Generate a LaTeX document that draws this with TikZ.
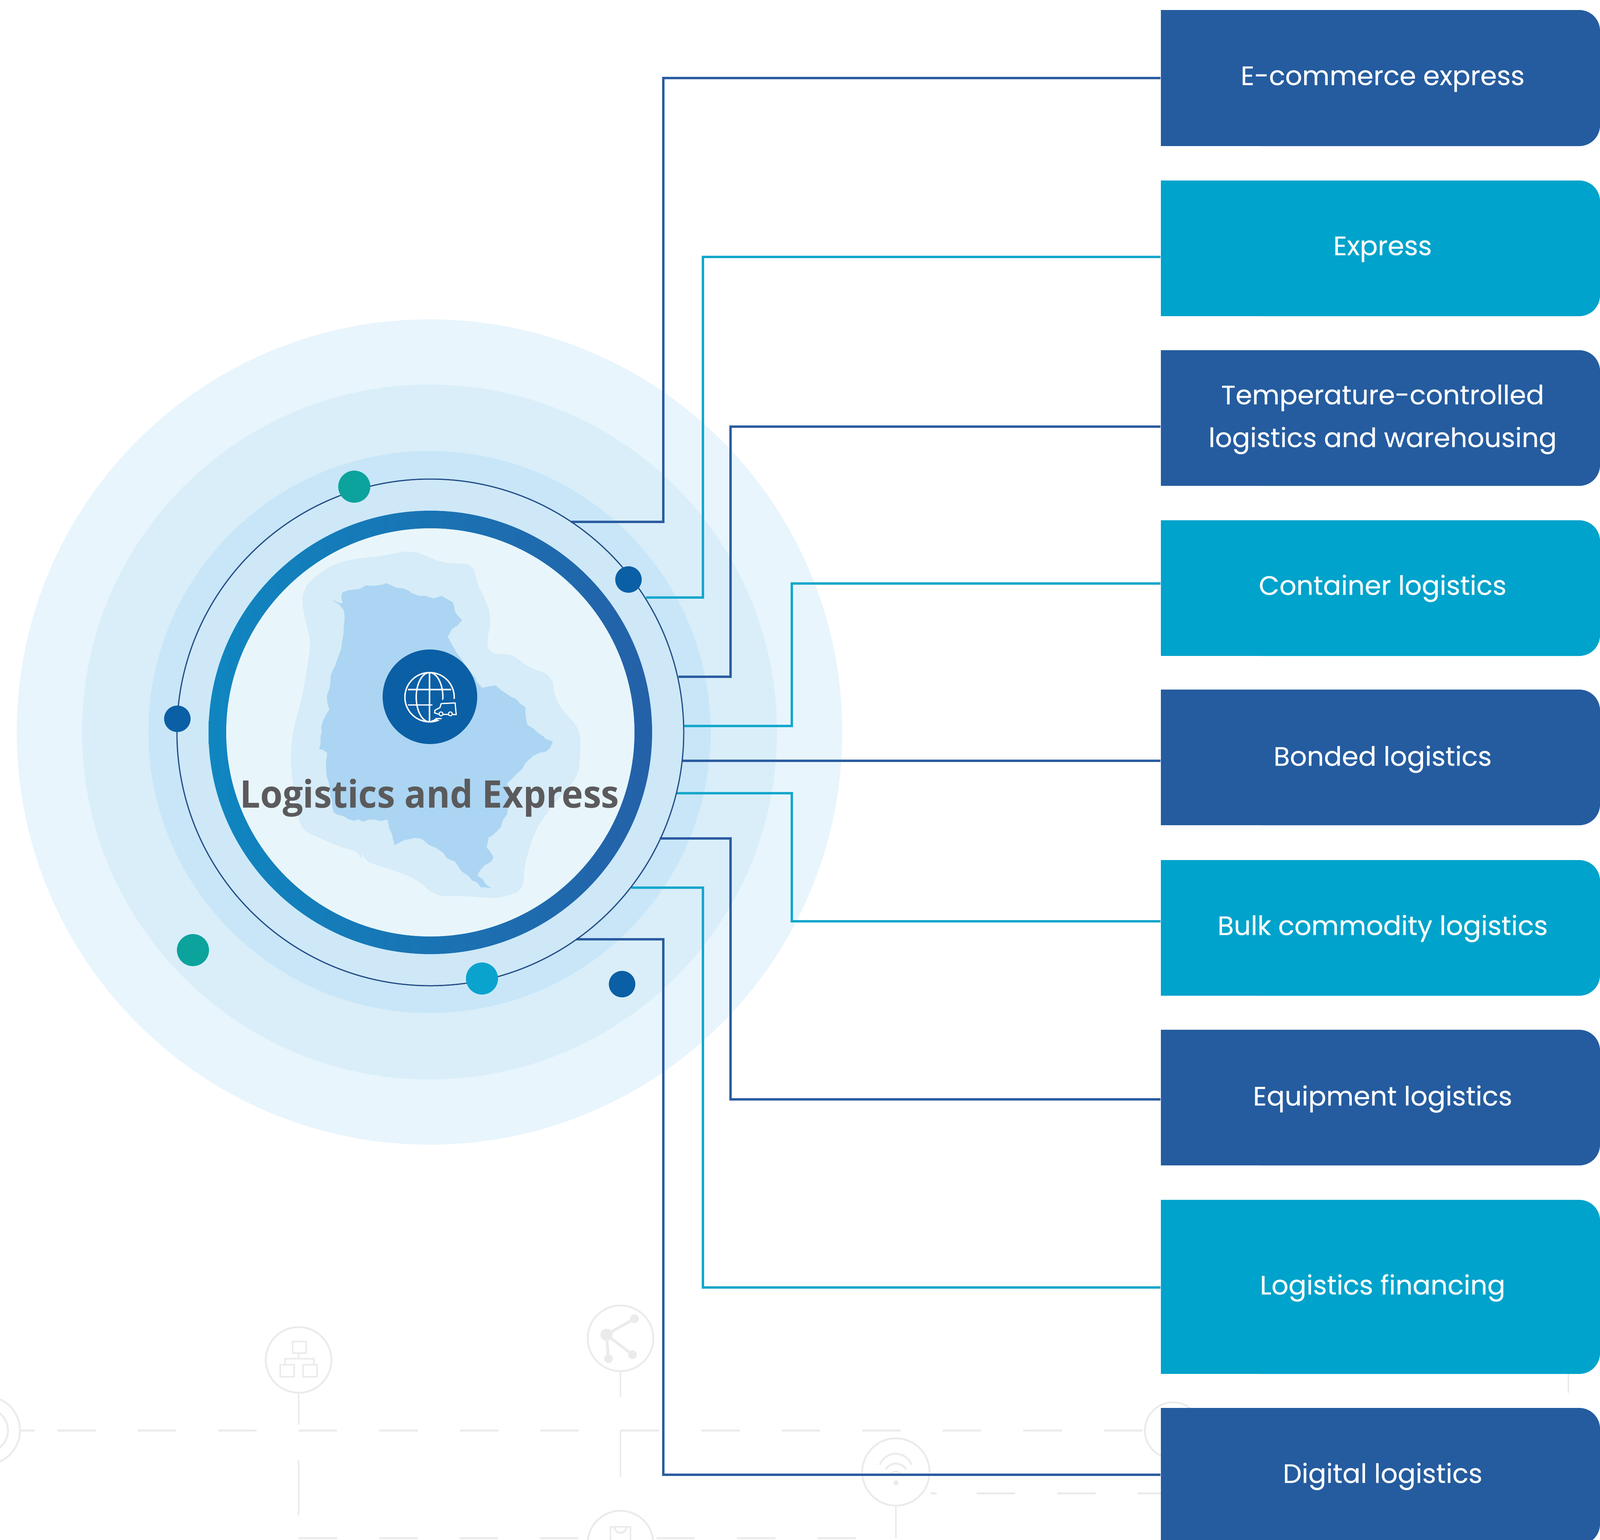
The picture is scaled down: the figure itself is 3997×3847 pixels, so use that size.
\documentclass[tikz,border=0pt]{standalone}
\usepackage{fontspec}
\usepackage{graphicx}
\usetikzlibrary{decorations.pathmorphing}
\newfontfamily\boxfont[FakeBold=0.25]{Poppins}
\newfontfamily\titlefont{Open Sans}
\definecolor{bdark}{HTML}{255C9F}
\definecolor{bcyan}{HTML}{00A3CB}
\definecolor{ldark}{HTML}{2A5CA0}
\definecolor{lcyan}{HTML}{12A7CC}
\definecolor{dotblue}{HTML}{0B5FA5}
\definecolor{dotteal}{HTML}{0BA39C}
\definecolor{dotcyan}{HTML}{0AA3CE}
\definecolor{haloa}{HTML}{E8F5FC}
\definecolor{halob}{HTML}{D9EEF9}
\definecolor{haloc}{HTML}{C8E6F7}
\definecolor{halod}{HTML}{CEE8F8}
\definecolor{disc}{HTML}{E8F6FB}
\definecolor{mappale}{HTML}{D6ECF8}
\definecolor{mapdark}{HTML}{ABD5F2}
\definecolor{ringa}{HTML}{0F86C0}
\definecolor{ringb}{HTML}{2461A8}
\definecolor{titlegray}{HTML}{5B5A5C}
\definecolor{faint}{HTML}{EBEBEB}
\newcommand\rboxx[6]{%
  \fill[#4,rounded corners=0.52cm] (3100,#2) rectangle (3997,#3);
  \fill[#4] (2900,#2) rectangle (3200,#3);
  \node[boxlabel] (#1) at (3454,#5) {#6};
}
\tikzset{
  boxlabel/.style={minimum width=11.08cm,minimum height=3.4cm,inner sep=0pt,align=center,text=white,
    font=\boxfont\fontsize{18.9pt}{30.4pt}\selectfont},
  dlink/.style={draw=ldark,line width=0.06cm},
  clink/.style={draw=lcyan,line width=0.06cm},
  dot/.style={circle,inner sep=0pt,minimum size=#1},
  iconline/.style={draw=white,line width=0.035cm},
  fline/.style={draw=faint,line width=0.045cm},
  fdash/.style={draw=faint,line width=0.05cm,dash pattern=on 0.96cm off 1.05cm},
}
\begin{document}
\begin{tikzpicture}[x=0.01cm,y=-0.01cm]
\useasboundingbox (0,0) rectangle (3997,3847);
\clip (0,0) rectangle (3997,3847);
\fill[white] (0,0) rectangle (3997,3847);

% faint background network
\draw[fdash] (143,3574) -- (2860,3574);
\draw[fdash] (50,3574) -- (86,3574);
\draw[fdash] (2440,3731) -- (2900,3731);
\draw[fdash] (2325,3731) -- (2340,3731);
\draw[fdash] (746,3843) -- (1480,3843);
\draw[fdash] (1640,3843) -- (2238,3843);
\draw[fline] (746,3480) -- (746,3560);
\draw[fline] (746,3648) -- (746,3786);
\draw[fline] (1550,3426) -- (1550,3490);
\draw[fline] (1550,3574) -- (1550,3690);
\draw[fline] (2238,3762) -- (2238,3843);
\draw[fline] (3918,3431) -- (3918,3480);
\draw[fline] (746,3398) circle[radius=82];
\draw[fline] (1550,3344) circle[radius=82];
\draw[fline] (2238,3678) circle[radius=84];
\draw[fline] (1550,3857) circle[radius=82];
\draw[fline] (-35,3574) circle[radius=85];
\draw[fline] (-35,3574) circle[radius=55];
\draw[fline] (2930,3574) circle[radius=70];
% hierarchy icon
\draw[fline] (731,3352) rectangle (765,3381);
\draw[fline] (746,3381) -- (746,3395) (712,3410) -- (712,3395) -- (784,3395) -- (784,3410);
\draw[fline] (700,3410) rectangle (735,3440);
\draw[fline] (757,3410) rectangle (792,3440);
% share icon
\draw[faint,line width=0.07cm] (1515,3335) -- (1585,3295) (1515,3335) -- (1580,3385) (1515,3335) -- (1520,3395);
\fill[faint] (1515,3335) circle[radius=15] (1585,3295) circle[radius=11] (1580,3385) circle[radius=11] (1520,3395) circle[radius=11];
% wifi icon
\draw[fline] (2198,3660) arc[start angle=-160,end angle=-20,radius=42];
\draw[fline] (2212,3672) arc[start angle=-150,end angle=-30,radius=30];
\draw[fline] (2224,3684) arc[start angle=-140,end angle=-40,radius=18];
\fill[faint] (2238,3705) circle[radius=6];
% lock icon
\draw[fline] (1525,3815) rectangle (1575,3850);
\draw[fline] (1535,3815) arc[start angle=180,end angle=0,radius=15];

% halos
\fill[haloa] (1073,1829) circle[radius=1031];
\fill[halob] (1073,1829) circle[radius=868];
\fill[haloc] (1073,1829) circle[radius=702];
\fill[halod] (1075,1830) circle[radius=633];

% connector free ends on the orbit
\coordinate (s1) at (1427,1304);
\coordinate (s2) at (1614,1493);
\coordinate (s3) at (1695,1691);
\coordinate (s4) at (1708,1814);
\coordinate (s5) at (1704,1901);
\coordinate (s6) at (1690,1982);
\coordinate (s7) at (1648,2095);
\coordinate (s8) at (1577,2218);
\coordinate (s9) at (1440,2347);

% boxes
\rboxx{b1}{25}{365}{bdark}{198}{E-commerce express}
\rboxx{b2}{451}{790}{bcyan}{623}{Express}
\rboxx{b3}{875}{1214}{bdark}{1048}{Temperature-controlled\\logistics and warehousing}
\rboxx{b4}{1300}{1639}{bcyan}{1470}{Container logistics}
\rboxx{b5}{1723}{2062}{bdark}{1897}{Bonded logistics}
\rboxx{b6}{2149}{2488}{bcyan}{2320}{Bulk commodity logistics}
\rboxx{b7}{2573}{2912}{bdark}{2746}{Equipment logistics}
\rboxx{b8}{2998}{3433}{bcyan}{3218}{Logistics financing}
\rboxx{b9}{3518}{3860}{bdark}{3689}{Digital logistics}

% connectors
\draw[dlink] (s1) -- (1657,1304) -- (1657,195) -- (b1.west |- 0,195);
\draw[clink] (s2) -- (1756,1493) -- (1756,642) -- (b2.west |- 0,642);
\draw[dlink] (s3) -- (1825,1691) -- (1825,1066) -- (b3.west |- 0,1066);
\draw[clink] (s4) -- (1978,1814) -- (1978,1458) -- (b4.west |- 0,1458);
\draw[dlink] (s5) -- (b5.west |- 0,1901);
\draw[clink] (s6) -- (1978,1982) -- (1978,2302) -- (b6.west |- 0,2302);
\draw[dlink] (s7) -- (1825,2095) -- (1825,2747) -- (b7.west |- 0,2747);
\draw[clink] (s8) -- (1756,2218) -- (1756,3217) -- (b8.west |- 0,3217);
\draw[dlink] (s9) -- (1657,2347) -- (1657,3685) -- (b9.west |- 0,3685);

% core
\draw[draw=ldark!85!black,line width=0.03cm] (1075,1830) circle[radius=633];
\fill[disc] (1075,1830) circle[radius=512];

% map
\begin{scope}[shift={(680,1320)},x=0.005102cm,y=-0.006378cm]
\fill[mappale,rounded corners=0.25cm] (150,240) -- (200,195) -- (300,140) -- (400,120) -- (560,105) -- (680,85) -- (760,110) -- (830,135) -- (990,140) -- (995,200) -- (1050,290) -- (1075,350) -- (1050,450) -- (1060,495) -- (1180,490) -- (1240,540) -- (1370,575) -- (1390,680) -- (1510,790) -- (1510,880) -- (1500,970) -- (1400,1060) -- (1330,1130) -- (1280,1200) -- (1235,1320) -- (1230,1420) -- (1100,1450) -- (950,1440) -- (800,1440) -- (700,1370) -- (560,1330) -- (440,1300) -- (440,1270) -- (340,1250) -- (140,1180) -- (130,1130) -- (100,1000) -- (90,900) -- (100,800) -- (150,650) -- (190,450) -- (145,300) -- cycle;
\fill[mapdark,line join=round,decorate,decoration={random steps,segment length=0.15cm,amplitude=0.035cm}] (290,278) -- (345,295) -- (345,250) -- (400,240) -- (480,225) -- (560,215) -- (640,235) -- (720,265) -- (790,275) -- (830,265) -- (885,290) -- (895,325) -- (930,360) -- (880,395) -- (860,425) -- (880,455) -- (905,490) -- (1000,600) -- (1030,625) -- (1095,615) -- (1170,660) -- (1240,700) -- (1250,770) -- (1300,800) -- (1340,825) -- (1375,835) -- (1340,875) -- (1280,890) -- (1240,920) -- (1200,960) -- (1150,1000) -- (1170,1060) -- (1150,1120) -- (1120,1170) -- (1060,1210) -- (1050,1250) -- (1085,1290) -- (1040,1320) -- (1005,1360) -- (1075,1410) -- (1020,1405) -- (960,1360) -- (880,1300) -- (800,1250) -- (730,1215) -- (650,1220) -- (600,1240) -- (565,1140) -- (400,1145) -- (300,1110) -- (285,1050) -- (265,960) -- (270,880) -- (230,865) -- (240,780) -- (280,710) -- (270,650) -- (295,560) -- (330,490) -- (350,410) -- (350,320) -- cycle;
\end{scope}

\shade[even odd rule,left color=ringa,right color=ringb,middle color=ringa!50!ringb]
  (1075,1830) circle[radius=554] (1075,1830) circle[radius=510];

% hub and globe icon
\node[dot=2.36cm,fill=dotblue] (hub) at (1074,1741) {};
\begin{scope}[shift={(900,1580)},x=0.003333cm,y=-0.003333cm]
\draw[iconline] (520,487) circle[x radius=185,y radius=185];
\draw[iconline] (520,487) circle[x radius=100,y radius=185];
\draw[iconline] (520,302) -- (520,672);
\draw[iconline] (358,430) -- (682,430);
\draw[iconline] (358,545) -- (682,545);
\fill[dotblue] (558,508) -- (622,508) -- (622,500) -- (630,500) -- (630,508) -- (695,508) -- (695,500) -- (715,500) -- (750,520) -- (750,640) -- (600,662) -- (535,640) -- (535,560) -- cycle;
\draw[iconline,line join=round,line width=0.03cm] (590,615) -- (558,605) -- (560,585) -- (598,565) -- (607,535) -- (712,530) -- (720,618) -- (692,616) (660,616) -- (622,616);
\draw[iconline,line width=0.025cm] (606,612) circle[radius=15] (676,612) circle[radius=15];
\draw[iconline,line width=0.03cm] (535,665) -- (575,660) -- (570,648) -- (610,648);
\end{scope}

% title
\node[anchor=base,inner sep=0pt,text=titlegray,font=\titlefont\bfseries\fontsize{27pt}{33pt}\selectfont] (title) at (1073,2018) {\scalebox{0.95}[1]{Logistics and Express}};

% dots
\node[dot=0.80cm,fill=dotteal] (d1) at (885,1216) {};
\node[dot=0.66cm,fill=dotblue] (d2) at (1570,1448) {};
\node[dot=0.66cm,fill=dotblue] (d3) at (443,1796) {};
\node[dot=0.80cm,fill=dotteal] (d4) at (482,2374) {};
\node[dot=0.80cm,fill=dotcyan] (d5) at (1204,2445) {};
\node[dot=0.66cm,fill=dotblue] (d6) at (1554,2459) {};
\end{tikzpicture}
\end{document}
